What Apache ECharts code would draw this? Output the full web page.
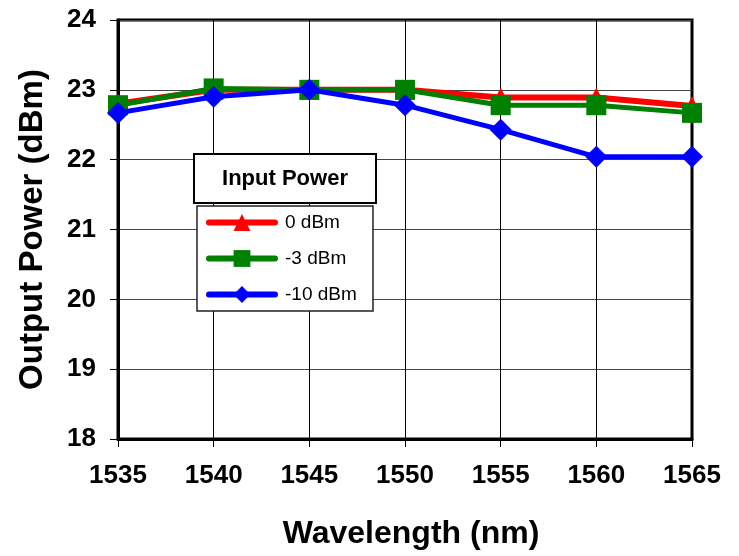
<!DOCTYPE html>
<html>
<head>
<meta charset="utf-8">
<script src="https://cdn.jsdelivr.net/npm/echarts@6/dist/echarts.min.js"></script>
<style>
html,body{margin:0;padding:0;background:#fff;}
#chart{width:739px;height:556px;}
</style>
</head>
<body>
<div id="chart"></div>
<script>
const wavelengths = [1535, 1540, 1545, 1550, 1555, 1560, 1565];
const seriesNames = ['0 dBm', '-3 dBm', '-10 dBm'];
const power0dBm = [22.8, 23.0, 23.0, 23.0, 22.89, 22.89, 22.77];
const powerMinus3dBm = [22.78, 23.02, 23.0, 23.0, 22.78, 22.78, 22.67];
const powerMinus10dBm = [22.67, 22.9, 23.0, 22.78, 22.43, 22.04, 22.04];
const yTicks = [18, 19, 20, 21, 22, 23, 24];

const FONT = "'Liberation Sans', Arial, sans-serif";
const pair = (xs, ys) => xs.map((x, i) => [x, ys[i]]);

const chart = echarts.init(document.getElementById('chart'), null, {renderer: 'canvas'});
chart.setOption({
  animation: false,
  backgroundColor: '#fff',
  grid: {
    left: 118, right: 47, top: 20, bottom: 117,
    show: true, borderColor: '#000', borderWidth: 3, backgroundColor: 'transparent'
  },
  xAxis: {
    type: 'value',
    min: wavelengths[0], max: wavelengths[wavelengths.length - 1], interval: 5,
    name: 'Wavelength (nm)', nameLocation: 'middle', nameGap: 79,
    nameTextStyle: {fontFamily: FONT, fontSize: 32, fontWeight: 'bold', color: '#000', padding: [0, 0, 0, 12]},
    axisLine: {show: true, lineStyle: {color: '#000', width: 3}},
    axisTick: {show: true, inside: false, length: 8, lineStyle: {color: '#000', width: 1}},
    axisLabel: {fontFamily: FONT, fontSize: 26, fontWeight: 'bold', color: '#000', margin: 24,
      formatter: v => String(v)},
    splitLine: {show: true, lineStyle: {color: '#000', width: 1}}
  },
  yAxis: {
    type: 'value',
    min: yTicks[0], max: yTicks[yTicks.length - 1], interval: 1,
    name: 'Output Power (dBm)', nameLocation: 'middle', nameGap: 69,
    nameTextStyle: {fontFamily: FONT, fontSize: 33, fontWeight: 'bold', color: '#000'},
    axisLine: {show: true, lineStyle: {color: '#000', width: 3}},
    axisTick: {show: true, inside: false, length: 8, lineStyle: {color: '#000', width: 1}},
    axisLabel: {fontFamily: FONT, fontSize: 26, fontWeight: 'bold', color: '#000', margin: 22},
    splitLine: {show: true, lineStyle: {color: '#444', width: 1}}
  },
  legend: {
    orient: 'vertical',
    left: 206, top: 212,
    padding: 0,
    itemWidth: 66, itemHeight: 21, itemGap: 15,
    z: 20,
    data: seriesNames,
    lineStyle: {width: 6, cap: 'round'},
    textStyle: {fontFamily: FONT, fontSize: 19, color: '#000', lineHeight: 21, padding: [0, 0, 0, 5]}
  },
  graphic: [
    {type: 'rect', z: 10, shape: {x: 194, y: 154, width: 182, height: 49},
     style: {fill: '#fff', stroke: '#000', lineWidth: 2}},
    {type: 'text', z: 11, x: 285, y: 179,
     style: {text: 'Input Power', font: "bold 22px 'Liberation Sans', Arial, sans-serif", fill: '#000', align: 'center', verticalAlign: 'middle'}},
    {type: 'rect', z: 10, shape: {x: 197, y: 206, width: 176, height: 105},
     style: {fill: '#fff', stroke: '#222', lineWidth: 1.5}}
  ],
  series: [
    {name: seriesNames[0], type: 'line', data: pair(wavelengths, power0dBm),
     symbol: 'triangle', symbolSize: 20, showAllSymbol: true,
     itemStyle: {color: '#ff0000'}, lineStyle: {color: '#ff0000', width: 6, cap: 'round', join: 'round'}, z: 2},
    {name: seriesNames[1], type: 'line', data: pair(wavelengths, powerMinus3dBm),
     symbol: 'rect', symbolSize: 20, showAllSymbol: true,
     itemStyle: {color: '#008000'}, lineStyle: {color: '#008000', width: 5, cap: 'round', join: 'round'}, z: 3},
    {name: seriesNames[2], type: 'line', data: pair(wavelengths, powerMinus10dBm),
     symbol: 'diamond', symbolSize: 22, showAllSymbol: true,
     itemStyle: {color: '#0000ff'}, lineStyle: {color: '#0000ff', width: 5, cap: 'round', join: 'round'}, z: 4}
  ]
});
</script>
</body>
</html>
